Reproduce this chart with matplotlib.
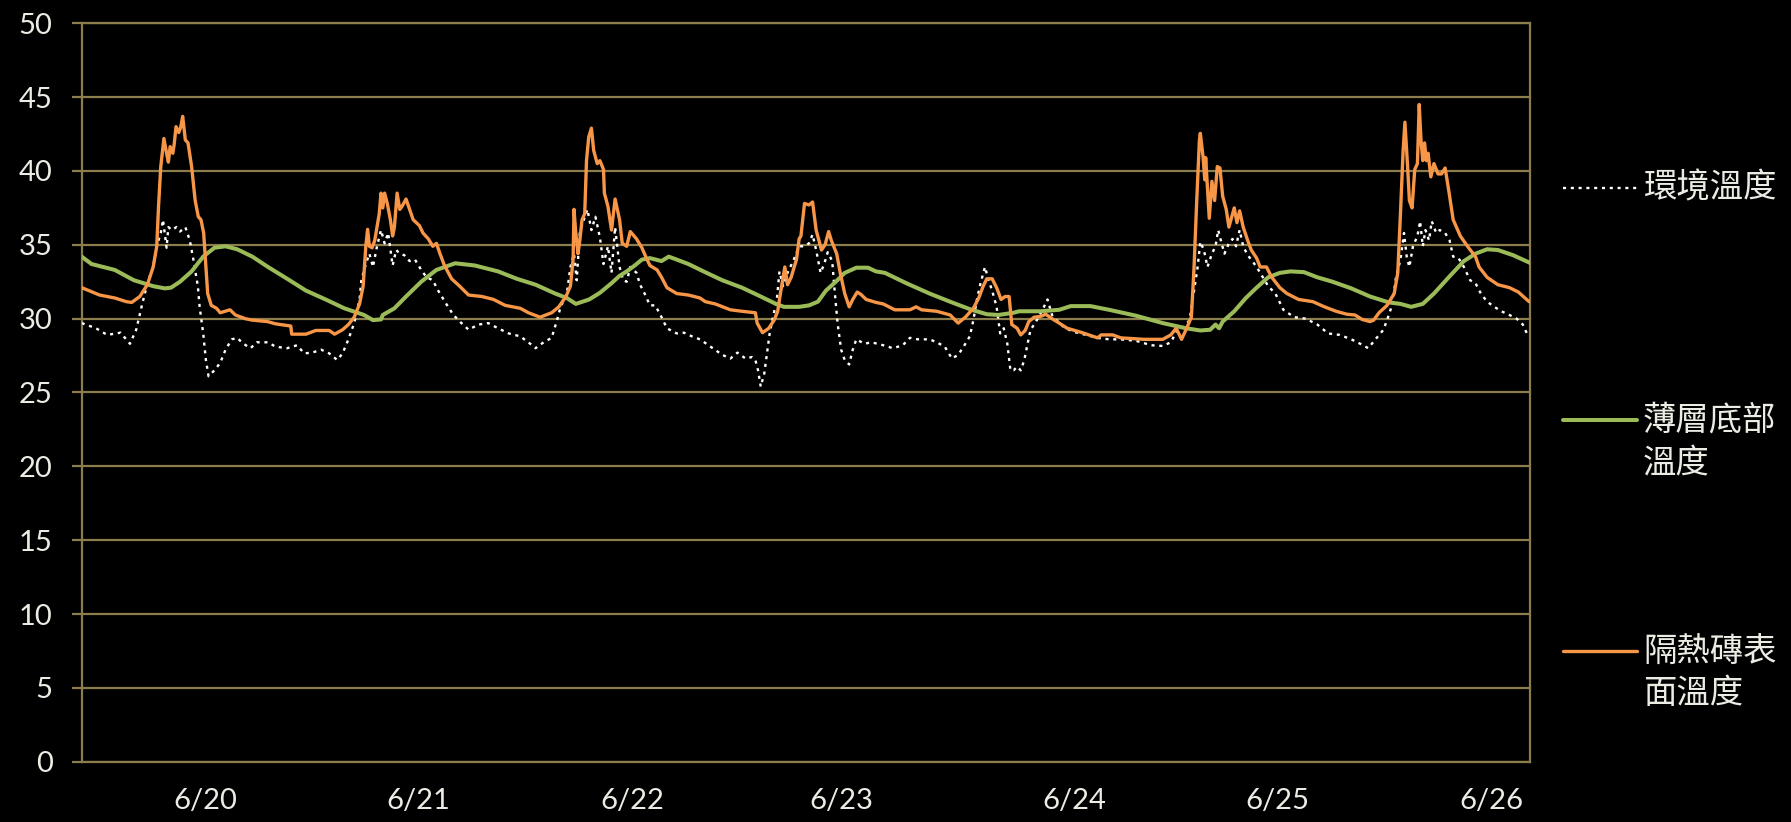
import matplotlib
matplotlib.use("Agg")
import matplotlib.pyplot as plt
from matplotlib.lines import Line2D

plt.rcParams['font.family'] = ['Lato', 'Noto Sans CJK TC', 'DejaVu Sans']

# Hours elapsed since the first reading
ambient_hours = [0, 1.6, 2.85, 4.35, 5.4, 6.1, 6.7, 7.35, 8.0, 8.4, 8.85, 9.1, 9.5, 9.7, 10.1, 10.6, 11.0, 11.6, 12.1, 12.5,
                 13.0, 13.2, 13.6, 13.9, 14.2, 14.85, 15.5, 16.1, 16.8, 17.4, 18.1, 18.9, 19.6, 20.85, 21.7, 23.0, 24.1, 24.9,
                 25.8, 26.8, 27.7, 28.6, 29.2, 29.85, 30.5, 31.1, 31.3, 31.8, 32.2, 32.6, 33.05, 33.5, 33.9, 34.3, 34.8, 35.2,
                 35.6, 36.1, 36.7, 37.3, 38.0, 38.6, 39.3, 39.9, 40.8, 41.6, 42.5, 43.3, 44.4, 45.5, 46.6, 47.8, 49.1, 50.2,
                 50.8, 51.7, 52.6, 53.2, 53.6, 54.3, 54.7, 55.1, 55.4, 55.75, 56.2, 56.6, 57.05, 57.5, 58.0, 58.4, 58.9, 59.3,
                 59.7, 60.2, 60.6, 61.0, 61.4, 62.1, 62.5, 63.0, 63.6, 64.2, 64.9, 65.5, 66.6, 67.4, 68.3, 69.2, 70.4, 71.7,
                 72.6, 73.4, 74.3, 75.0, 75.4, 75.7, 76.0, 76.4, 76.7, 77.0, 77.3, 77.8, 78.1, 78.5, 79.0, 79.7, 80.3, 80.9,
                 81.4, 81.8, 82.2, 82.7, 83.1, 83.5, 84.0, 84.3, 84.6, 85.0, 85.4, 85.9, 86.3, 86.7, 87.6, 88.4, 89.7, 90.8,
                 91.9, 92.7, 93.6, 94.9, 95.7, 96.6, 97.4, 98.1, 98.7, 99.4, 99.8, 100.2, 100.6, 101.1, 101.5, 101.9, 102.4,
                 102.8, 103.2, 103.6, 103.95, 104.3, 104.7, 105.1, 105.5, 105.8, 106.2, 106.6, 107.1, 107.7, 108.1, 108.6,
                 109.4, 110.1, 111.1, 112.4, 113.7, 115.0, 116.3, 118.0, 119.7, 121.0, 121.9, 122.5, 123.1, 124.0, 124.5,
                 124.9, 125.2, 125.6, 126.0, 126.5, 126.9, 127.2, 127.5, 127.9, 128.4, 128.8, 129.2, 129.6, 130.0, 130.5,
                 130.9, 131.5, 132.2, 132.8, 133.6, 134.5, 135.7, 137.0, 138.3, 139.5, 140.8, 142.1, 143.1, 144.0, 144.8,
                 145.7, 146.3, 146.7, 147.1, 147.6, 148.0, 148.3, 148.6, 149.0, 149.5, 149.8, 150.1, 150.4, 150.8, 151.1,
                 151.6, 152.0, 152.6, 153.1, 153.5, 154.1, 154.7, 155.4, 156.0, 156.6, 157.3, 158.1, 158.9, 159.8, 160.6,
                 161.3, 161.9]
ambient_temp = [29.7, 29.35, 28.9, 29.05, 28.3, 29.25, 30.8, 32.4, 33.5, 34.9, 35.8, 36.7, 34.8, 36.2, 36.0, 36.2, 35.9, 36.2,
                35.3, 34.0, 32.2, 30.8, 29.0, 27.2, 26.1, 26.5, 27.0, 27.9, 28.6, 28.7, 28.3, 28.0, 28.4, 28.4, 28.1, 28.0,
                28.2, 27.65, 27.7, 27.9, 27.65, 27.2, 27.65, 28.6, 29.7, 31.3, 32.6, 33.7, 34.4, 33.5, 34.9, 36.0, 35.1, 35.8,
                33.6, 34.65, 34.4, 34.3, 33.9, 34.0, 33.3, 32.8, 32.6, 31.9, 31.0, 30.25, 29.7, 29.25, 29.6, 29.7, 29.35, 29.0,
                28.8, 28.3, 28.0, 28.4, 28.7, 29.9, 30.8, 31.7, 33.5, 34.4, 32.6, 35.8, 36.7, 37.4, 36.0, 36.9, 35.5, 33.7,
                34.9, 33.1, 36.2, 33.5, 32.6, 32.5, 33.5, 33.1, 32.3, 31.7, 30.9, 30.9, 30.1, 29.35, 29.0, 29.05, 28.8, 28.6,
                28.1, 27.55, 27.3, 27.7, 27.3, 27.4, 27.2, 26.5, 25.4, 26.3, 27.65, 29.0, 29.9, 31.3, 33.2, 32.2, 33.1, 34.0,
                34.9, 34.9, 35.1, 35.7, 34.65, 33.1, 33.7, 34.5, 33.9, 31.7, 29.7, 27.9, 27.2, 26.9, 27.9, 28.6, 28.3, 28.4,
                28.2, 28.0, 28.2, 28.7, 28.6, 28.6, 28.4, 28.1, 27.3, 27.55, 28.1, 28.8, 29.9, 31.3, 32.4, 33.5, 32.6, 31.9,
                30.8, 29.0, 29.35, 28.3, 26.5, 26.5, 26.75, 26.5, 27.2, 28.1, 29.25, 29.6, 30.1, 30.8, 31.3, 30.25, 29.7,
                29.35, 29.1, 28.9, 28.7, 28.6, 28.6, 28.5, 28.2, 28.15, 28.4, 29.1, 29.25, 29.9, 31.9, 33.5, 35.2, 34.65,
                33.5, 34.4, 34.9, 36.0, 35.3, 34.4, 35.1, 35.4, 34.9, 36.0, 34.9, 34.3, 34.0, 33.5, 32.8, 32.2, 31.7, 30.6,
                30.1, 30.0, 29.6, 29.0, 28.9, 28.6, 28.3, 28.0, 28.6, 29.25, 30.25, 31.0, 32.8, 34.0, 35.8, 34.2, 33.5, 34.9,
                35.6, 36.6, 34.9, 36.0, 35.3, 36.6, 35.8, 36.0, 35.8, 35.3, 34.2, 34.1, 33.5, 32.6, 32.4, 31.7, 31.15, 30.8,
                30.5, 30.25, 30.0, 29.6, 28.8]

base_hours = [0, 1.1, 3.7, 5.85, 8.0, 9.3, 10.0, 11.0, 12.3, 13.6, 14.85, 16.1, 17.4, 19.1, 20.85, 23.0, 25.1, 27.3, 29.4,
              31.6, 32.6, 33.5, 33.7, 35.0, 36.3, 38.0, 39.7, 41.8, 44.0, 46.6, 48.7, 50.8, 53.0, 54.3, 55.3, 56.8, 58.0,
              59.3, 60.2, 61.0, 61.9, 62.7, 63.6, 64.9, 65.7, 66.6, 67.9, 69.6, 71.7, 73.9, 76.0, 77.7, 78.6, 80.3, 81.4,
              82.4, 83.3, 84.4, 85.4, 86.7, 88.0, 88.9, 89.9, 92.3, 94.9, 97.4, 99.6, 101.3, 102.6, 104.3, 104.9, 107.3,
              109.4, 110.7, 112.9, 115.0, 118.0, 121.0, 123.6, 125.2, 126.3, 126.9, 127.3, 127.7, 129.0, 130.3, 131.5,
              132.8, 134.1, 135.3, 136.8, 138.3, 140.0, 142.1, 144.2, 146.3, 147.6, 148.8, 150.1, 151.35, 153.0, 154.7,
              156.0, 157.3, 158.5, 160.2, 162.2]
base_temp = [34.2, 33.7, 33.3, 32.6, 32.2, 32.05, 32.1, 32.5, 33.2, 34.2, 34.8, 34.9, 34.7, 34.2, 33.5, 32.7, 31.9, 31.3,
             30.7, 30.25, 29.9, 29.95, 30.25, 30.7, 31.5, 32.5, 33.3, 33.75, 33.6, 33.2, 32.7, 32.3, 31.7, 31.4, 31.0,
             31.3, 31.75, 32.4, 32.9, 33.2, 33.6, 34.0, 34.1, 33.9, 34.2, 34.0, 33.7, 33.2, 32.6, 32.1, 31.5, 31.0, 30.8,
             30.8, 30.9, 31.15, 31.9, 32.5, 33.1, 33.45, 33.45, 33.2, 33.1, 32.4, 31.7, 31.1, 30.6, 30.3, 30.25, 30.4,
             30.5, 30.5, 30.6, 30.85, 30.85, 30.6, 30.2, 29.7, 29.35, 29.2, 29.25, 29.6, 29.35, 29.8, 30.5, 31.4, 32.1,
             32.8, 33.1, 33.2, 33.15, 32.8, 32.5, 32.05, 31.5, 31.1, 31.0, 30.8, 31.0, 31.7, 32.8, 33.9, 34.4, 34.7,
             34.65, 34.3, 33.75]

surface_hours = [0, 2.0, 3.7, 5.0, 5.6, 6.5, 7.35, 8.0, 8.4, 8.6, 8.85, 9.2, 9.5, 9.7, 9.9, 10.2, 10.35, 10.56, 10.86,
                 11.1, 11.3, 11.6, 11.9, 12.3, 12.7, 13.05, 13.35, 13.65, 13.9, 14.1, 14.5, 15.1, 15.5, 16.6, 17.2, 18.3,
                 19.1, 20.8, 21.7, 23.4, 23.5, 25.1, 26.2, 27.7, 28.3, 29.2, 29.85, 30.5, 31.1, 31.5, 31.8, 32.0, 32.2,
                 32.5, 32.8, 33.3, 33.5, 33.7, 33.9, 34.2, 34.55, 34.8, 35.0, 35.3, 35.6, 35.85, 36.3, 36.7, 37.1, 37.8,
                 38.2, 38.8, 39.3, 39.7, 40.1, 40.6, 41.4, 42.3, 43.3, 44.8, 46.1, 47.4, 49.1, 50.0, 51.3, 52.6, 53.4, 54.2,
                 54.7, 55.0, 55.1, 55.3, 55.55, 55.75, 56.0, 56.3, 56.5, 56.75, 57.05, 57.3, 57.7, 58.0, 58.4, 58.5, 58.9,
                 59.3, 59.7, 60.2, 60.5, 61.0, 61.4, 62.1, 62.7, 63.2, 63.6, 64.4, 64.9, 65.5, 66.6, 67.9, 69.2, 69.8,
                 70.9, 72.6, 73.9, 75.4, 75.6, 76.2, 76.9, 77.5, 77.9, 78.2, 78.7, 79.0, 79.4, 80.0, 80.3, 80.5, 80.9,
                 81.4, 81.8, 82.2, 82.8, 83.2, 83.6, 83.9, 84.5, 84.9, 85.4, 85.9, 86.3, 86.8, 87.2, 87.8, 88.9, 89.7,
                 91.0, 92.7, 93.4, 94.0, 95.7, 97.2, 98.1, 98.9, 99.8, 100.4, 100.9, 101.3, 101.9, 102.4, 102.9, 103.35,
                 103.8, 104.1, 104.7, 105.1, 105.6, 106.0, 106.6, 107.3, 107.9, 108.6, 109.4, 110.3, 112.0, 113.7, 114.1,
                 115.4, 116.3, 118.9, 121.0, 121.9, 122.5, 123.1, 123.6, 124.2, 124.5, 124.8, 125.1, 125.2, 125.5, 125.7,
                 125.8, 126.0, 126.2, 126.5, 126.8, 127.1, 127.4, 127.7, 128.1, 128.4, 129.0, 129.3, 129.6, 130.0, 130.5,
                 130.9, 131.5, 131.9, 132.6, 133.2, 134.1, 134.9, 136.2, 137.8, 139.1, 140.4, 141.6, 142.5, 143.3, 144.2,
                 144.6, 145.2, 146.1, 146.9, 147.3, 147.6, 147.9, 148.1, 148.4, 148.6, 148.9, 149.2, 149.5, 149.7, 149.9,
                 150.1, 150.3, 150.5, 150.7, 151.0, 151.35, 151.8, 152.2, 152.6, 153.0, 153.5, 154.3, 155.1, 156.0, 156.4,
                 157.3, 158.5, 159.8, 160.8, 162.0]
surface_temp = [32.1, 31.6, 31.4, 31.15, 31.1, 31.5, 32.3, 33.5, 34.9, 37.6, 40.3, 42.2, 41.2, 40.6, 41.65, 41.2, 41.8,
                43.0, 42.6, 43.0, 43.7, 42.1, 41.9, 40.3, 38.0, 36.9, 36.7, 35.8, 33.5, 31.7, 30.9, 30.7, 30.4, 30.6, 30.25,
                30.0, 29.9, 29.8, 29.65, 29.5, 28.95, 28.95, 29.2, 29.2, 28.95, 29.25, 29.6, 30.1, 31.0, 32.2, 34.9, 36.05,
                34.9, 34.8, 35.3, 37.1, 38.5, 37.5, 38.5, 37.8, 36.7, 35.6, 36.2, 38.5, 37.4, 37.6, 38.1, 37.4, 36.7, 36.3,
                35.8, 35.4, 34.9, 35.1, 34.4, 33.6, 32.7, 32.2, 31.6, 31.5, 31.3, 30.9, 30.7, 30.4, 30.1, 30.4, 30.8, 31.5,
                32.2, 34.0, 37.4, 35.8, 34.4, 35.3, 36.7, 37.1, 40.7, 42.3, 42.9, 41.4, 40.5, 40.7, 40.1, 38.5, 37.6, 36.0,
                38.1, 36.7, 35.1, 34.9, 35.9, 35.4, 34.8, 34.1, 33.6, 33.3, 32.8, 32.1, 31.7, 31.6, 31.4, 31.15, 31.0, 30.6,
                30.5, 30.4, 29.7, 29.05, 29.35, 29.9, 30.5, 31.7, 33.5, 32.3, 32.8, 34.0, 35.4, 35.6, 37.8, 37.7, 37.9, 36.0,
                34.65, 35.0, 35.9, 35.3, 34.4, 33.1, 31.7, 30.8, 31.3, 31.8, 31.65, 31.3, 31.1, 31.0, 30.6, 30.6, 30.8, 30.6,
                30.5, 30.25, 29.7, 30.1, 30.7, 31.4, 32.2, 32.7, 32.7, 32.1, 31.3, 31.5, 31.5, 29.6, 29.35, 28.9, 29.2, 29.8,
                30.1, 30.15, 30.3, 30.0, 29.7, 29.35, 29.05, 28.7, 28.9, 28.9, 28.7, 28.6, 28.6, 28.9, 29.35, 28.6, 29.25,
                30.1, 33.5, 38.0, 42.1, 42.55, 41.0, 39.4, 40.9, 38.9, 36.8, 39.3, 38.0, 40.3, 40.2, 38.3, 37.4, 36.2, 37.5,
                36.5, 37.3, 36.2, 35.3, 34.65, 34.1, 33.5, 33.5, 32.8, 32.1, 31.7, 31.3, 31.15, 30.8, 30.5, 30.3, 30.25,
                29.95, 29.8, 29.9, 30.4, 30.9, 31.7, 33.1, 37.1, 41.4, 43.3, 40.3, 38.0, 37.5, 40.1, 40.5, 44.5, 42.1, 40.7,
                41.9, 40.7, 41.2, 39.6, 40.5, 39.8, 39.8, 40.2, 38.7, 36.7, 35.6, 34.9, 34.2, 33.5, 32.8, 32.3, 32.1, 31.8,
                31.15]

day_ticks = [13.8, 37.7, 61.6, 85.0, 111.1, 133.8, 157.8]
day_labels = ['6/20', '6/21', '6/22', '6/23', '6/24', '6/25', '6/26']
y_ticks = list(range(0, 51, 5))

series_labels = ['環境溫度', '薄層底部\n溫度', '隔熱磚表\n面溫度']
series_colors = ['#FFFFFF', '#9BBB59', '#F79646']

W, H = 1791, 822
grid_color = '#8C7E4C'
text_color = '#ECECE4'

fig = plt.figure(figsize=(W / 100, H / 100), dpi=100, facecolor='black')
ax = fig.add_axes([81.7 / W, 1 - 761.7 / H, (1530 - 81.7) / W, (761.7 - 23.3) / H])
ax.set_facecolor('black')

ambient_style = dict(color=series_colors[0], lw=1.7, linestyle=(0, (1.3, 2.0)))
base_style = dict(color=series_colors[1], lw=2.9, solid_joinstyle='round', solid_capstyle='round')
surface_style = dict(color=series_colors[2], lw=2.4, solid_joinstyle='round', solid_capstyle='round')

ax.plot(ambient_hours, ambient_temp, **ambient_style, zorder=3)
ax.plot(base_hours, base_temp, **base_style, zorder=4)
ax.plot(surface_hours, surface_temp, **surface_style, zorder=5)

ax.set_xlim(0, 162.1)
ax.set_ylim(0, 50)
ax.set_yticks(y_ticks)
ax.set_xticks(day_ticks)
ax.set_xticklabels(day_labels)
ax.yaxis.grid(True, color=grid_color, lw=1.6)
ax.set_axisbelow(True)
for s in ax.spines.values():
    s.set_color(grid_color)
    s.set_linewidth(1.6)
ax.tick_params(axis='y', colors=grid_color, length=7, width=1.6, pad=14, labelsize=21, labelcolor=text_color)
ax.tick_params(axis='x', length=0, pad=19, labelsize=21, labelcolor=text_color)

# Legend drawn at the right of the plot area
handle_x = (1563 / W, 1637 / W)
text_x = 1643 / W
entry_y = [188, 420, 651]
styles = [ambient_style, base_style, surface_style]
line_gap = 43
for label, st, y in zip(series_labels, styles, entry_y):
    fy = 1 - y / H
    fig.add_artist(Line2D(handle_x, [fy, fy], transform=fig.transFigure, **st))
    for i, part in enumerate(label.split('\n')):
        fig.text(text_x, 1 - (y + i * line_gap) / H, part, color=text_color, fontsize=24,
                 family=['Noto Sans CJK TC', 'DejaVu Sans'], va='center', ha='left')

fig.savefig('out.png', dpi=100, facecolor='black')
